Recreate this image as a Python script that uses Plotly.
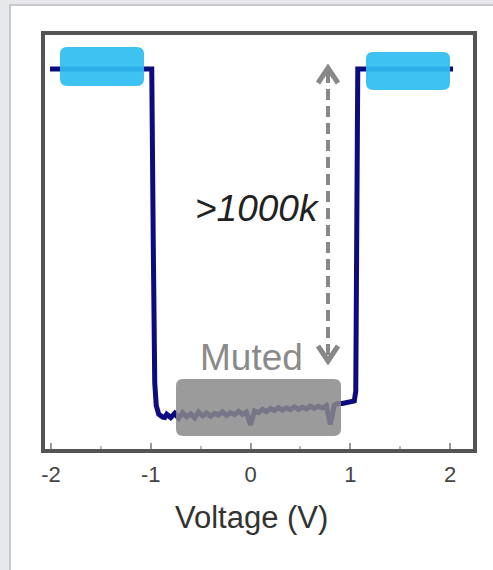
import plotly.graph_objects as go

# ---- data (y in arbitrary normalised units) ----
voltage_edges = [-2.01, -0.99, -0.975, -0.96, -0.945, -0.92, -0.88, -0.86]
level_edges = [91.8, 91.8, 50.0, 16.0, 10.5, 8.4, 7.7, 7.6]

voltage_low = [-0.84, -0.80, -0.76, -0.72, -0.68, -0.64, -0.60, -0.56, -0.52, -0.48,
               -0.44, -0.40, -0.36, -0.32, -0.28, -0.24, -0.20, -0.16, -0.12, -0.08,
               -0.04, 0.00, 0.04, 0.08, 0.12, 0.16, 0.20, 0.24, 0.28, 0.32,
               0.36, 0.40, 0.44, 0.48, 0.52, 0.56, 0.60, 0.64, 0.68, 0.72,
               0.76, 0.80, 0.84, 0.88]
level_low = [8.4, 7.6, 8.6, 7.4, 8.8, 7.8, 8.5, 7.5, 8.9, 8.0,
             8.7, 7.9, 8.6, 8.2, 9.0, 8.1, 8.8, 8.3, 9.1, 8.4,
             8.9, 5.8, 9.2, 8.8, 9.6, 9.0, 9.8, 9.3, 10.0, 9.4,
             9.9, 9.5, 10.2, 9.6, 10.1, 9.7, 10.4, 9.8, 10.3, 9.9,
             10.5, 5.9, 10.6, 11.0]

voltage_right = [0.92, 0.98, 1.04, 1.055, 1.065, 1.075, 2.03]
level_right = [11.0, 11.3, 11.6, 14.0, 50.0, 91.8, 91.8]

x_ticks = [-2, -1, 0, 1, 2]
x_tick_text = ["-2", "-1", "0", "1", "2"]
x_title = "Voltage (V)"

voltage = voltage_edges + voltage_low + voltage_right
level = level_edges + level_low + level_right

X_RANGE = [-2.06, 2.23]
Y_RANGE = [0, 100]
PX_X = 428 / (X_RANGE[1] - X_RANGE[0])
PX_Y = 414 / (Y_RANGE[1] - Y_RANGE[0])

def px2x(px):
    return X_RANGE[0] + (px - 45) / PX_X

def py2y(py):
    return Y_RANGE[0] + (449 - py) / PX_Y

def rrect(px0, px1, py0, py1, r=7):
    x0, x1 = px2x(px0), px2x(px1)
    y0, y1 = py2y(py1), py2y(py0)
    rx, ry = r / PX_X, r / PX_Y
    return (f"M {x0+rx},{y0} L {x1-rx},{y0} Q {x1},{y0} {x1},{y0+ry} "
            f"L {x1},{y1-ry} Q {x1},{y1} {x1-rx},{y1} L {x0+rx},{y1} "
            f"Q {x0},{y1} {x0},{y1-ry} L {x0},{y0+ry} Q {x0},{y0} {x0+rx},{y0} Z")

fig = go.Figure()
fig.add_trace(go.Scatter(x=voltage, y=level, mode="lines",
                         line=dict(color="#0c0c7e", width=5),
                         hoverinfo="skip", showlegend=False))

shapes = []
# white panel
shapes.append(dict(type="rect", xref="paper", yref="paper",
                   x0=(10 - 45) / 428, x1=(495 - 45) / 428,
                   y0=(449 - 575) / 414, y1=(449 - 5) / 414,
                   fillcolor="white", line=dict(color="#c8c8c8", width=2),
                   layer="below"))
# blue boxes
shapes.append(dict(type="path", path=rrect(60, 144, 47, 86), xref="x", yref="y",
                   fillcolor="#2fbdf0", opacity=0.93, line=dict(width=0)))
shapes.append(dict(type="path", path=rrect(366, 450, 52, 90), xref="x", yref="y",
                   fillcolor="#2fbdf0", opacity=0.93, line=dict(width=0)))
# gray box
shapes.append(dict(type="path", path=rrect(176, 341, 379, 436), xref="x", yref="y",
                   fillcolor="#8a8a8a", opacity=0.85, line=dict(width=0)))
# dashed arrow
ax = px2x(328)
shapes.append(dict(type="line", xref="x", yref="y", x0=ax, x1=ax,
                   y0=py2y(72), y1=py2y(357),
                   line=dict(color="#888888", width=4, dash="11px,6px")))
shapes.append(dict(type="path", xref="x", yref="y",
                   path=f"M {px2x(318)},{py2y(83)} L {ax},{py2y(68)} L {px2x(338)},{py2y(83)}",
                   line=dict(color="#888888", width=5)))
shapes.append(dict(type="path", xref="x", yref="y",
                   path=f"M {px2x(318)},{py2y(346)} L {ax},{py2y(361)} L {px2x(338)},{py2y(346)}",
                   line=dict(color="#888888", width=5)))

annotations = [
    dict(x=px2x(257), y=py2y(208), xref="x", yref="y", text="<i>>1000k</i>",
         showarrow=False, font=dict(family="Liberation Sans, Arial", size=37, color="#222222")),
    dict(x=px2x(251), y=py2y(357), xref="x", yref="y", text="Muted",
         showarrow=False, font=dict(family="Liberation Sans, Arial", size=37, color="#8a8a8a")),
    dict(x=(251 - 45) / 428, y=(449 - 517) / 414, xref="paper", yref="paper",
         text=x_title, showarrow=False, yanchor="middle",
         font=dict(family="Liberation Sans, Arial", size=31, color="#333333")),
]

fig.update_layout(
    width=493, height=570,
    margin=dict(l=45, r=20, t=35, b=121),
    paper_bgcolor="#e6e8eb", plot_bgcolor="white",
    shapes=shapes, annotations=annotations,
    font=dict(family="Liberation Sans, Arial", color="#333333"),
    xaxis=dict(range=X_RANGE, tickvals=x_ticks, ticktext=x_tick_text,
               ticks="inside", ticklen=6, tickwidth=1.5, tickcolor="#999999",
               minor=dict(ticks="inside", ticklen=3, tickcolor="#bbbbbb", dtick=0.5),
               showgrid=False, zeroline=False,
               showline=True, linecolor="#555555", linewidth=4, mirror=True,
               tickfont=dict(size=22, color="#444444"), ticklabelstandoff=3),
    yaxis=dict(range=Y_RANGE, showticklabels=False, ticks="", showgrid=False,
               zeroline=False, showline=True, linecolor="#555555", linewidth=4, mirror=True),
)

fig.write_html("out.html", config={"displayModeBar": False},
               post_script="document.body.style.margin='0';document.body.style.overflow='hidden';")
